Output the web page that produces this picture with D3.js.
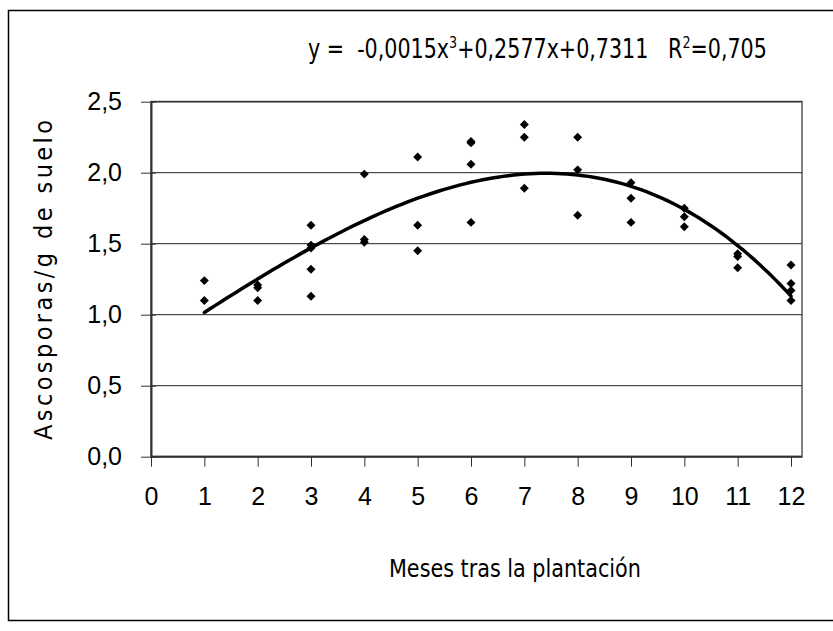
<!DOCTYPE html>
<html lang="es">
<head>
    <meta charset="UTF-8">
    <title>Ascosporas/g de suelo</title>
    <script src="https://d3js.org/d3.v7.min.js"></script>
    <style>
        body { margin: 0; background: #fff; }
        .tick-label { font-family: "Liberation Sans", Arial, sans-serif; font-size: 25px; fill: #000; }
        .narrow { font-family: "DejaVu Sans Condensed", "Liberation Sans Narrow", sans-serif; font-stretch: condensed; fill: #000; white-space: pre; }
    </style>
</head>
<body>
    <svg id="chart" width="833" height="631"></svg>

    <script>
        // data points (months after planting, ascospores per g of soil)
        const months = [1, 1, 2, 2, 2, 3, 3, 3, 3, 3, 4, 4, 4, 5, 5, 5,
                        6, 6, 6, 6, 7, 7, 7, 8, 8, 8, 9, 9, 9, 10, 10, 10,
                        11, 11, 11, 12, 12, 12, 12];
        const values = [1.24, 1.10, 1.21, 1.19, 1.10, 1.63, 1.49, 1.47, 1.32, 1.13, 1.99, 1.53, 1.51, 2.11, 1.63, 1.45,
                        2.22, 2.21, 2.06, 1.65, 2.34, 2.25, 1.89, 2.25, 2.02, 1.70, 1.93, 1.82, 1.65, 1.75, 1.69, 1.62,
                        1.43, 1.41, 1.33, 1.35, 1.22, 1.17, 1.10];
        const xTicks = d3.range(0, 13);
        const yTicks = [0, 0.5, 1.0, 1.5, 2.0, 2.5];

        const svg = d3.select('#chart');

        const plotLeft = 151, plotRight = 791, frameRight = 802;
        const plotTop = 101.7, plotBottom = 456.7;

        const x = d3.scaleLinear().domain([0, 12]).range([plotLeft, plotRight]);
        const y = d3.scaleLinear().domain([0, 2.5]).range([plotBottom, plotTop]);
        const fmt = d => d.toFixed(1).replace('.', ',');

        // outer chart border
        svg.append('rect')
            .attr('x', 8.5).attr('y', 10.5)
            .attr('width', 840).attr('height', 610)
            .attr('fill', 'none').attr('stroke', '#000').attr('stroke-width', 1.5);

        // plot frame
        svg.append('rect')
            .attr('x', plotLeft).attr('y', plotTop)
            .attr('width', frameRight - plotLeft).attr('height', plotBottom - plotTop)
            .attr('fill', 'none').attr('stroke', '#808080').attr('stroke-width', 2);

        // gridlines
        svg.append('g')
            .selectAll('line')
            .data(yTicks.filter(d => d > 0))
            .join('line')
            .attr('x1', plotLeft).attr('x2', frameRight)
            .attr('y1', d => y(d)).attr('y2', d => y(d))
            .attr('stroke', '#222').attr('stroke-width', 1);

        // y axis
        const yAxis = svg.append('g')
            .attr('transform', `translate(${plotLeft},0)`)
            .call(d3.axisLeft(y).tickValues(yTicks).tickFormat(fmt).tickSizeInner(10).tickSizeOuter(0).tickPadding(19));
        yAxis.select('.domain').attr('stroke', '#333').attr('stroke-width', 2);
        yAxis.selectAll('.tick line').attr('stroke', '#333').attr('x2', 5).attr('x1', -10);
        yAxis.selectAll('.tick text').attr('class', 'tick-label').attr('font-size', null).attr('font-family', null);

        // x axis
        const xAxis = svg.append('g')
            .attr('transform', `translate(0,${plotBottom})`)
            .call(d3.axisBottom(x).tickValues(xTicks).tickFormat(d3.format('d')).tickSizeInner(10).tickSizeOuter(0).tickPadding(21));
        xAxis.select('.domain').attr('stroke', '#333').attr('stroke-width', 2).attr('d', `M${plotLeft},0H${frameRight}`);
        xAxis.selectAll('.tick line').attr('stroke', '#333');
        xAxis.selectAll('.tick text').attr('class', 'tick-label').attr('font-size', null).attr('font-family', null);

        // cubic trendline fitted by least squares to the points
        function polyFit(xs, ys, order) {
            const n = order + 1;
            const A = Array.from({ length: n }, () => new Array(n + 1).fill(0));
            xs.forEach((xv, k) => {
                for (let i = 0; i < n; i++) {
                    for (let j = 0; j < n; j++) A[i][j] += Math.pow(xv, i + j);
                    A[i][n] += ys[k] * Math.pow(xv, i);
                }
            });
            for (let i = 0; i < n; i++) {
                let p = i;
                for (let r = i + 1; r < n; r++) if (Math.abs(A[r][i]) > Math.abs(A[p][i])) p = r;
                [A[i], A[p]] = [A[p], A[i]];
                for (let r = 0; r < n; r++) {
                    if (r === i) continue;
                    const f = A[r][i] / A[i][i];
                    for (let c = i; c <= n; c++) A[r][c] -= f * A[i][c];
                }
            }
            return A.map((row, i) => row[n] / row[i]);
        }
        const coef = polyFit(months, values, 3);
        const fit = t => coef.reduce((s, c, i) => s + c * Math.pow(t, i), 0);

        const curveX = d3.range(1, 12.001, 0.1);
        svg.append('path')
            .datum(curveX)
            .attr('fill', 'none')
            .attr('stroke', '#000')
            .attr('stroke-width', 3.5)
            .attr('stroke-linecap', 'round')
            .attr('d', d3.line().x(d => x(d)).y(d => y(fit(d))));

        // points
        svg.append('g')
            .selectAll('path')
            .data(months.map((m, i) => [m, values[i]]))
            .join('path')
            .attr('d', d3.symbol(d3.symbolSquare, 40))
            .attr('transform', d => `translate(${x(d[0])},${y(d[1])}) rotate(45)`)
            .attr('fill', '#000');

        // make a text span a given width: squeeze it if too wide, space it out if too narrow
        function fitWidth(sel, width, x0) {
            const w = sel.node().getBBox().width;
            if (w > width) {
                const k = width / w;
                sel.attr('transform', `translate(${x0 * (1 - k)},0) scale(${k},1)`);
            } else {
                const n = sel.text().length;
                sel.attr('letter-spacing', (width - w) / (n - 1));
            }
        }

        // equation
        const eq = svg.append('text')
            .attr('class', 'narrow')
            .attr('x', 308).attr('y', 58)
            .attr('font-size', 26);
        eq.append('tspan').text('y =  -0,0015x');
        eq.append('tspan').attr('dy', -10).attr('font-size', 16).text('3');
        eq.append('tspan').attr('dy', 10).text('+0,2577x+0,7311   R');
        eq.append('tspan').attr('dy', -10).attr('font-size', 16).text('2');
        eq.append('tspan').attr('dy', 10).text('=0,705');
        fitWidth(eq, 459, 308);

        // axis titles
        const xTitle = svg.append('text')
            .attr('class', 'narrow')
            .attr('x', 389).attr('y', 577)
            .attr('font-size', 25)
            .text('Meses tras la plantación');
        fitWidth(xTitle, 252, 389);

        const yTitle = svg.append('text')
            .attr('class', 'narrow')
            .attr('x', -440).attr('y', 52)
            .attr('transform', 'rotate(-90)')
            .attr('font-size', 25)
            .text('Ascosporas/g de suelo');
        yTitle.attr('letter-spacing', (320 - yTitle.node().getComputedTextLength()) / 20);
    </script>
</body>
</html>
